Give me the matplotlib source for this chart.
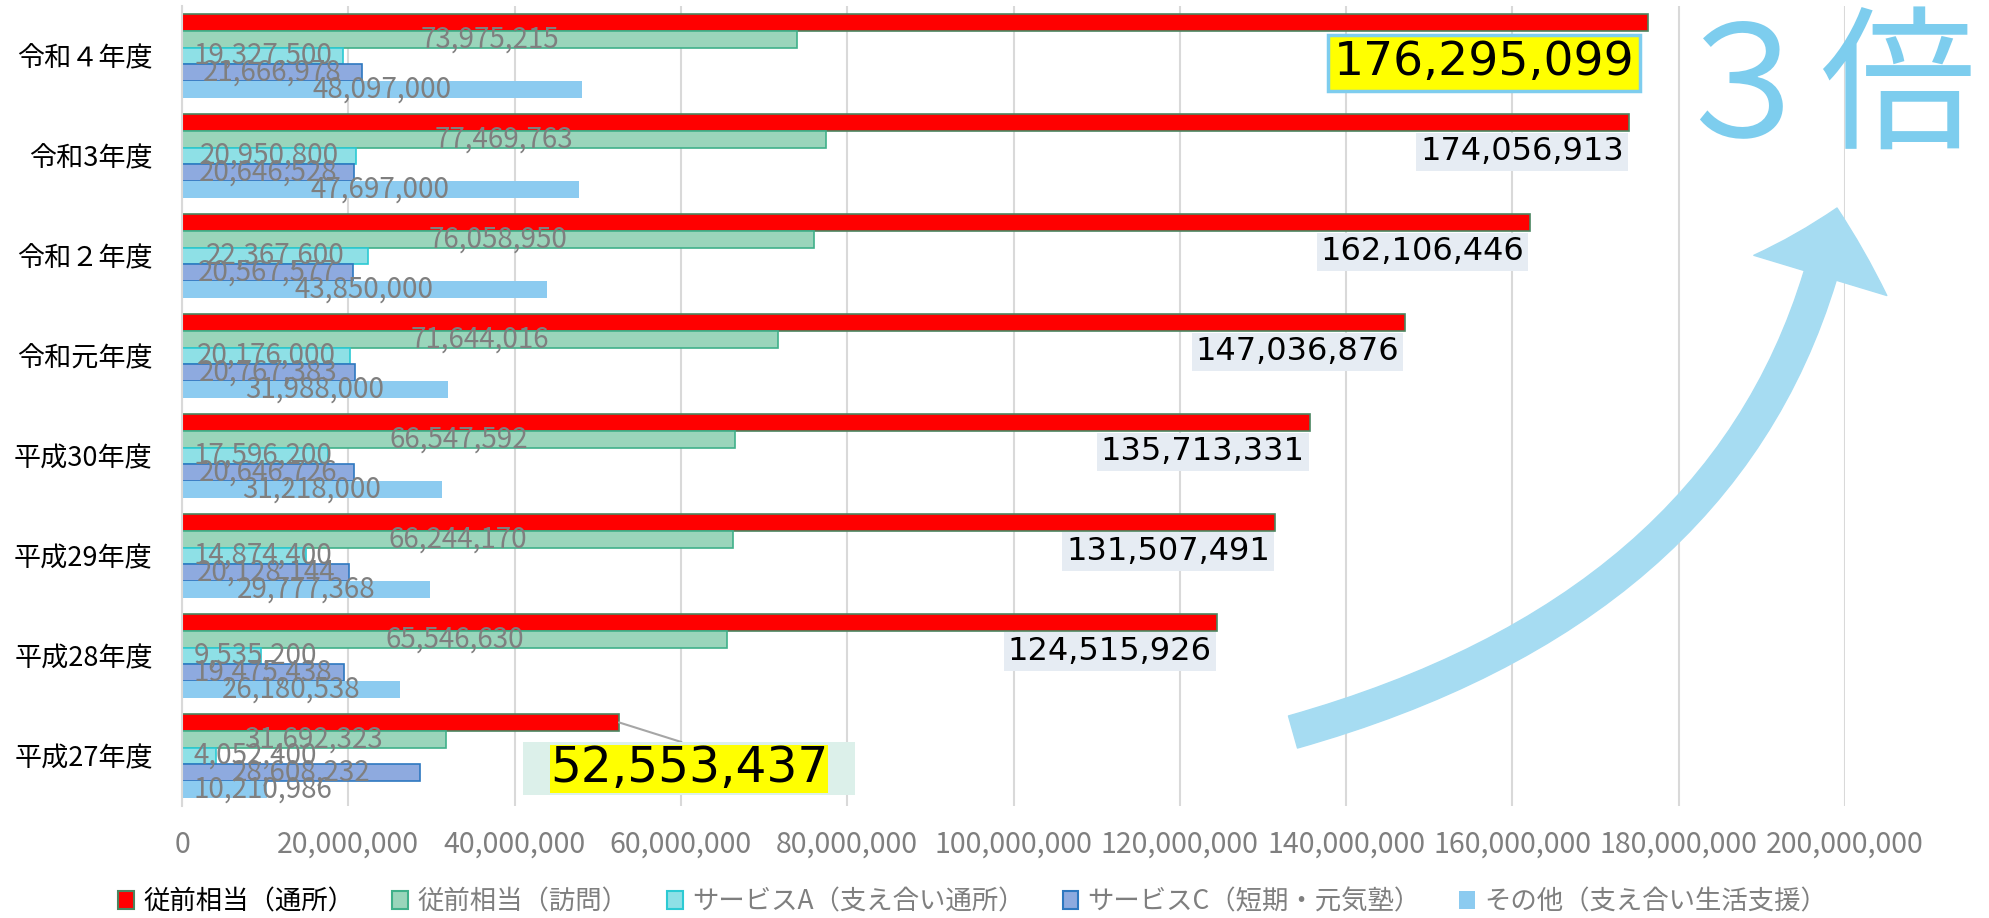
import matplotlib.pyplot as plt
from matplotlib.patches import Patch, FancyArrowPatch, ArrowStyle
from matplotlib.path import Path
from matplotlib.ticker import FuncFormatter

plt.rcParams['font.family'] = ['Noto Sans CJK JP', 'DejaVu Sans']

# データ（上から順）
years = ['令和４年度', '令和3年度', '令和２年度', '令和元年度',
         '平成30年度', '平成29年度', '平成28年度', '平成27年度']
series_names = ['従前相当（通所）', '従前相当（訪問）', 'サービスA（支え合い通所）',
                'サービスC（短期・元気塾）', 'その他（支え合い生活支援）']
tsusho = [176295099, 174056913, 162106446, 147036876, 135713331, 131507491, 124515926, 52553437]
houmon = [73975215, 77469763, 76058950, 71644016, 66547592, 66244170, 65546630, 31692323]
service_a = [19327500, 20950800, 22367600, 20176000, 17596200, 14874400, 9535200, 4052400]
service_c = [21666978, 20646528, 20567577, 20767383, 20646726, 20128144, 19475438, 28608232]
sonota = [48097000, 47697000, 43850000, 31988000, 31218000, 29777368, 26180538, 10210986]

all_series = [tsusho, houmon, service_a, service_c, sonota]
face_colors = ['#ff0000', '#9ad5bb', '#8ee0e6', '#8eaadf', '#8ccbf0']
edge_colors = ['#4a8560', '#40b08a', '#2ccad3', '#2e78c0', 'none']
gray = '#7f7f7f'

W, H = 1989, 918
fig = plt.figure(figsize=(W / 100, H / 100), dpi=100)
ax = fig.add_axes([182 / W, 1 - 806 / H, (1845 - 182) / W, 800 / H])

bar_h = 0.168
idx = list(range(len(years)))
gray_texts = []
for j, vals in enumerate(all_series):
    ys = [i + (j - 2) * bar_h for i in idx]
    ax.barh(ys, vals, height=bar_h, color=face_colors[j], edgecolor=edge_colors[j],
            linewidth=1.2, zorder=2)
    if j == 0:
        continue
    for y, v in zip(ys, vals):
        t = ax.text(v / 2, y, f'{v:,}', ha='center', va='center', fontsize=20,
                    color=gray, zorder=4)
        gray_texts.append(t)

# 通所のラベル
for i, v in enumerate(tsusho):
    if i == 0:
        ax.annotate(f'{v:,}', xy=(v, i - 2 * bar_h), xytext=(-9.5, -29),
                    textcoords='offset points', ha='right', va='center',
                    fontsize=34, family='DejaVu Sans', zorder=6,
                    bbox=dict(boxstyle='square,pad=0.12', fc='#ffff00', ec='#7ecdee', lw=2.5))
    elif i == len(tsusho) - 1:
        lx, ly = 61.0e6, i + 0.125
        ax.annotate('\u2002' + f'{v:,}' + '\u2002', xy=(v, i - 2 * bar_h), xytext=(lx, ly),
                    ha='center', va='center', fontsize=35, family='DejaVu Sans',
                    color='none', zorder=5,
                    bbox=dict(boxstyle='square,pad=0.05', fc='#dcf0ea', ec='none'),
                    arrowprops=dict(arrowstyle='-', color='#a6a6a6', lw=1.5,
                                    shrinkA=0, shrinkB=0, relpos=(0.5, 1.0)))
        ax.text(lx, ly, f'{v:,}', ha='center', va='center', fontsize=35,
                family='DejaVu Sans', color='black', zorder=6,
                bbox=dict(boxstyle='square,pad=0.0', fc='#ffff00', ec='none'))
    else:
        ax.annotate(f'{v:,}', xy=(v, i), xytext=(-4, 3), textcoords='offset points',
                    ha='right', va='center', fontsize=23, family='DejaVu Sans', zorder=6,
                    bbox=dict(boxstyle='square,pad=0.12', fc='#e6ecf3', ec='none'))

ax.set_xlim(0, 200e6)
ax.set_ylim(len(years) - 0.5, -0.5)
ax.set_yticks(idx)
ax.set_yticklabels(years, fontsize=19.5)
ax.set_xticks(range(0, 200000001, 20000000))
ax.xaxis.set_major_formatter(FuncFormatter(lambda x, p: f'{int(x):,}'))
ax.tick_params(axis='x', labelsize=20.5, labelcolor=gray, length=0, pad=17)
ax.tick_params(axis='y', length=0, pad=21)
ax.grid(axis='x', color='#d9d9d9', lw=1.5, zorder=0)
ax.set_axisbelow(True)
for s in ['top', 'right', 'bottom']:
    ax.spines[s].set_visible(False)
ax.spines['left'].set_color('#d9d9d9')
ax.spines['left'].set_linewidth(1.5)

# 小さい棒のラベルは軸の内側に寄せる
fig.canvas.draw()
renderer = fig.canvas.get_renderer()
left_px = ax.bbox.x0 + 12
for t in gray_texts:
    bb = t.get_window_extent(renderer)
    if bb.x0 < left_px:
        t.set_ha('left')
        x_data = ax.transData.inverted().transform((left_px, 0))[0]
        t.set_x(x_data)

# 凡例
handles = [Patch(facecolor=face_colors[j], edgecolor=edge_colors[j], linewidth=1.5)
           for j in range(5)]
leg = fig.legend(handles, series_names, loc='center', bbox_to_anchor=(0.489, 0.0174),
                 ncol=5, frameon=False, fontsize=19, handlelength=0.6, handleheight=0.65,
                 handletextpad=0.35, columnspacing=1.45, borderpad=0)
for k, txt in enumerate(leg.get_texts()):
    txt.set_color('black' if k == 0 else gray)

# ３倍の文字と矢印
fig.text(1665 / W, 1 - 137 / H, '３倍', fontsize=112, color='#7dcdee',
         ha='left', va='baseline')
pts = [(1293, 732), (1760, 600), (1837, 208)]
path = Path([(x / W, 1 - y / H) for x, y in pts], [Path.MOVETO, Path.CURVE3, Path.CURVE3])
arrow = FancyArrowPatch(path=path, transform=fig.transFigure, color='#a6dcf2',
                        arrowstyle=ArrowStyle.Simple(head_length=50, head_width=100, tail_width=24),
                        mutation_scale=1, zorder=3)
fig.add_artist(arrow)

fig.savefig('out.png', dpi=100)
